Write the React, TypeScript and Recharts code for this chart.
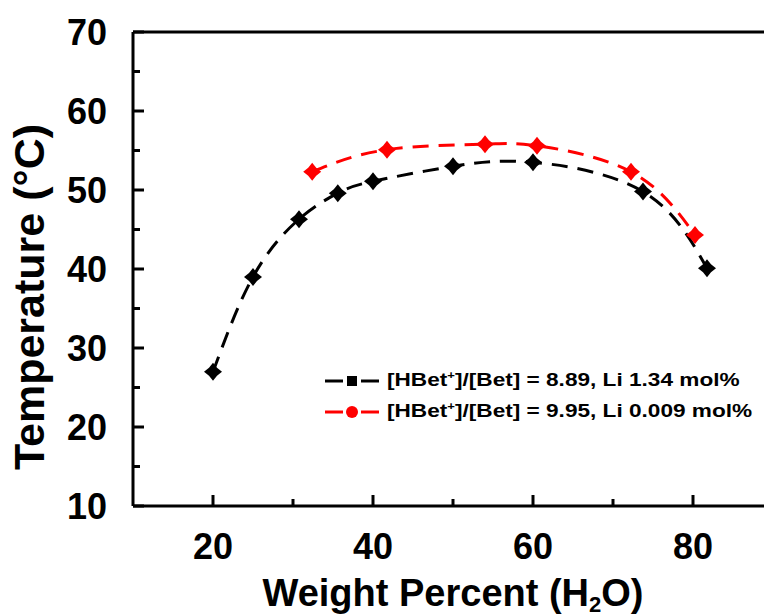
import React from "react";
import { LineChart, Line, XAxis, YAxis, ReferenceLine, Legend } from "recharts";

// weight percent of water (x) and melting temperature (y)
const blackWeight = [20, 25, 30.75, 35.6, 40, 50, 60, 73.75, 81.75];
const blackTemp = [27.0, 39.0, 46.3, 49.6, 51.1, 53.0, 53.5, 49.8, 40.1];
const redWeight = [32.4, 41.75, 54, 60.5, 72.25, 80.25];
const redTemp = [52.3, 55.1, 55.8, 55.6, 52.3, 44.3];

const xTicks = [20, 30, 40, 50, 60, 70, 80];
const xLabelTicks = [20, 40, 60, 80];
const yTicks = [10, 15, 20, 25, 30, 35, 40, 45, 50, 55, 60, 65, 70];
const yLabelTicks = [10, 20, 30, 40, 50, 60, 70];

const seriesRatio = ["8.89", "9.95"];
const seriesLi = ["1.34", "0.009"];
const seriesColors = ["#000000", "#ff0000"];

const FONT = "'Liberation Sans', Arial, sans-serif";

const blackData = blackWeight.map((x, i) => ({ x, y: blackTemp[i] }));
const redData = redWeight.map((x, i) => ({ x, y: redTemp[i] }));

const Marker = (props: any) => {
  const { cx, cy, fill } = props;
  if (cx == null || cy == null) return null;
  const s = 9;
  const k = 4;
  const pts = [
    [0, -s], [k, -k], [s, 0], [k, k], [0, s], [-k, k], [-s, 0], [-k, -k],
  ]
    .map(([a, b]) => `${cx + a},${cy + b}`)
    .join(" ");
  return <polygon points={pts} fill={fill} />;
};

const XTick = (props: any) => {
  const { x, y, payload } = props;
  const axisY = y - 4;
  const major = xLabelTicks.includes(payload.value);
  return (
    <g>
      <line x1={x} x2={x} y1={axisY} y2={axisY - (major ? 11 : 7)} stroke="#000" strokeWidth={3} />
      {major && (
        <text x={x} y={axisY + 53} textAnchor="middle" fontSize={36} fontWeight="bold" fontFamily={FONT} fill="#000">
          {payload.value}
        </text>
      )}
    </g>
  );
};

const YTick = (props: any) => {
  const { x, y, payload } = props;
  const axisX = x + 26;
  const major = yLabelTicks.includes(payload.value);
  return (
    <g>
      <line x1={axisX} x2={axisX + (major ? 11 : 7)} y1={y} y2={y} stroke="#000" strokeWidth={3} />
      {major && (
        <text x={x} y={y} dy="0.36em" textAnchor="end" fontSize={36} fontWeight="bold" fontFamily={FONT} fill="#000">
          {payload.value}
        </text>
      )}
    </g>
  );
};

const XTitle = (props: any) => {
  const vb = props.viewBox;
  return (
    <text x={vb.x + vb.width / 2} y={vb.y + 100} textAnchor="middle" fontSize={38} fontWeight="bold" fontFamily={FONT} fill="#000">
      Weight Percent (H
      <tspan fontSize={22} dy={6}>2</tspan>
      <tspan dy={-6}>O)</tspan>
    </text>
  );
};

const YTitle = (props: any) => {
  const vb = props.viewBox;
  const cx = vb.x + 11;
  const cy = vb.y + vb.height / 2 + 28;
  return (
    <text transform={`translate(${cx},${cy}) rotate(-90)`} textAnchor="middle" fontSize={43} fontWeight="bold" fontFamily={FONT} fill="#000">
      Temperature (°C)
    </text>
  );
};

const LegendBox = () => (
  <div style={{ fontFamily: FONT, fontWeight: "bold", color: "#000" }}>
    {seriesRatio.map((r, i) => (
      <div key={i} style={{ display: "flex", alignItems: "center", height: 31, whiteSpace: "nowrap" }}>
        <svg width={54} height={20} style={{ marginRight: 8 }}>
          <line x1={0} x2={18} y1={10} y2={10} stroke={seriesColors[i]} strokeWidth={3} />
          <line x1={36} x2={54} y1={10} y2={10} stroke={seriesColors[i]} strokeWidth={3} />
          {i === 0 ? (
            <rect x={22} y={5} width={10} height={10} fill={seriesColors[i]} />
          ) : (
            <circle cx={27} cy={10} r={6} fill={seriesColors[i]} />
          )}
        </svg>
        <span style={{ fontSize: 19, display: "inline-block", transform: "scaleX(1.19)", transformOrigin: "left center" }}>
          [HBet<sup style={{ fontSize: 11 }}>+</sup>]/[Bet] = {r}, Li {seriesLi[i]} mol%
        </span>
      </div>
    ))}
  </div>
);

export default function App() {
  return (
    <div style={{ position: "fixed", left: 0, top: 0, width: 764, height: 616, overflow: "hidden", background: "#fff" }}>
      <LineChart width={800} height={616} margin={{ top: 32, right: 27, bottom: 50, left: 33 }}>
        <XAxis
          type="number"
          dataKey="x"
          domain={[10, 90]}
          ticks={xTicks}
          allowDataOverflow
          height={60}
          tickSize={0}
          tickMargin={4}
          tickLine={false}
          axisLine={{ stroke: "#000", strokeWidth: 3 }}
          tick={<XTick />}
          label={<XTitle />}
        />
        <YAxis
          type="number"
          dataKey="y"
          domain={[10, 70]}
          ticks={yTicks}
          allowDataOverflow
          width={100}
          tickSize={0}
          tickMargin={26}
          tickLine={false}
          axisLine={{ stroke: "#000", strokeWidth: 3 }}
          tick={<YTick />}
          label={<YTitle />}
        />
        <ReferenceLine y={70} stroke="#000" strokeWidth={3} />
        <Legend
          layout="vertical"
          align="center"
          verticalAlign="middle"
          content={<LegendBox />}
          wrapperStyle={{ left: 325, top: 365, width: 440 }}
        />
        <Line
          data={blackData}
          dataKey="y"
          type="natural"
          stroke={seriesColors[0]}
          strokeWidth={3}
          strokeDasharray="16 10"
          dot={<Marker fill={seriesColors[0]} />}
          isAnimationActive={false}
        />
        <Line
          data={redData}
          dataKey="y"
          type="natural"
          stroke={seriesColors[1]}
          strokeWidth={3}
          strokeDasharray="16 10"
          dot={<Marker fill={seriesColors[1]} />}
          isAnimationActive={false}
        />
      </LineChart>
    </div>
  );
}
